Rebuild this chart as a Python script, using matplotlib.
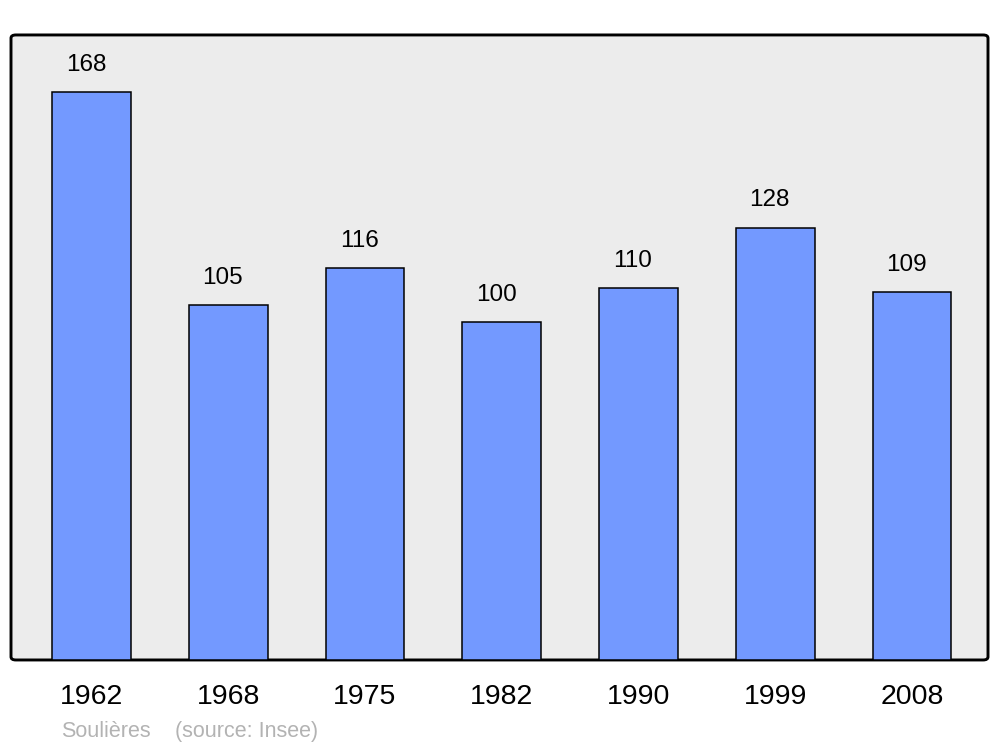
import matplotlib.pyplot as plt
from matplotlib.patches import FancyBboxPatch

plt.rcParams['font.family'] = ['Liberation Sans', 'DejaVu Sans']

years = ['1962', '1968', '1975', '1982', '1990', '1999', '2008']
population = [168, 105, 116, 100, 110, 128, 109]

fig = plt.figure(figsize=(10, 7.47), dpi=100)
ax = fig.add_axes([0.011, 0.1165, 0.977, 0.8367])

# rounded grey frame
frame = FancyBboxPatch((0, 0), 1, 1, boxstyle='round,pad=0,rounding_size=0.005',
                       transform=ax.transAxes, facecolor='#ececec',
                       edgecolor='black', linewidth=2.1, zorder=0, clip_on=False)
ax.add_patch(frame)
ax.set_facecolor('none')
for s in ax.spines.values():
    s.set_visible(False)

x = list(range(len(years)))
ax.bar(x, population, width=0.575, color='#7399ff', edgecolor='black',
       linewidth=1.1, zorder=2)

for xi, v in zip(x, population):
    ax.annotate(str(v), (xi, v), xytext=(-4, 19.5), textcoords='offset points',
                ha='center', va='center', fontsize=17.5)

ax.set_xlim(-0.589, 6.556)
ax.set_ylim(0, 185)
ax.set_yticks([])
ax.set_xticks(x)
ax.set_xticklabels(years, fontsize=20.5)
ax.tick_params(axis='x', length=0, pad=17.5)

fig.text(0.061, 0.014, 'Soulières', color='#b3b3b3', fontsize=15.5, va='baseline')
fig.text(0.175, 0.014, '(source: Insee)', color='#b3b3b3', fontsize=15.5, va='baseline')

fig.savefig('out.png', dpi=100)
